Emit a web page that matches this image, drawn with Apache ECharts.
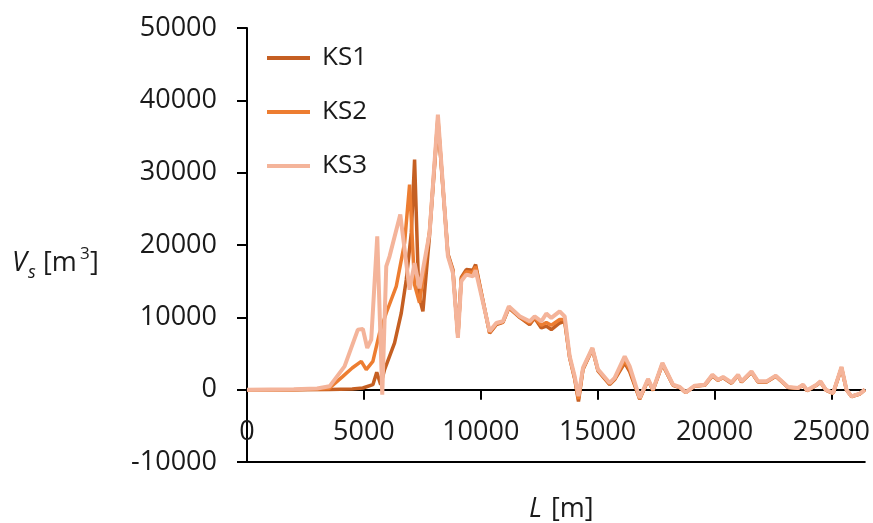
<!DOCTYPE html>
<html>
<head>
<meta charset="utf-8">
<script src="https://cdn.jsdelivr.net/npm/echarts@6/dist/echarts.min.js"></script>
<style>
html,body{margin:0;padding:0;background:#fff;}
#c{width:873px;height:523px;}
</style>
</head>
<body>
<div id="c"></div>
<script>
// ---- data (distance L [m], volume Vs [m3]) ----
const seriesNames = ['KS1', 'KS2', 'KS3'];
const xTicks = [0, 5000, 10000, 15000, 20000, 25000];

const ks1HeadX = [0, 2000, 3500, 4500, 4956, 5385, 5550, 5720, 5885, 6313, 6600, 6814, 7028, 7169, 7350, 7525, 7800];
const ks1HeadY = [0, 0, 20, 100, 230, 690, 2400, 700, 2770, 6460, 10600, 15210, 21670, 31800, 13000, 10830, 21000];

const ks2HeadX = [0, 2000, 3500, 4100, 4500, 4888, 5102, 5385, 5671, 5957, 6385, 6741, 6955, 7169, 7380, 7600, 7811];
const ks2HeadY = [0, 0, 150, 1840, 3000, 3910, 2770, 3900, 7840, 10600, 14290, 20290, 28350, 14500, 12000, 17000, 22000];

const ks3HeadX = [0, 2000, 3000, 3531, 4173, 4743, 4956, 5144, 5315, 5572, 5786, 5957, 6099, 6557, 6955, 7169, 7380, 7811];
const ks3HeadY = [0, 50, 150, 460, 3220, 8300, 8390, 5770, 6920, 21200, -700, 17050, 18440, 24200, 13830, 17500, 14000, 21670];

const tailX = [8166, 8594, 8808, 9022, 9166, 9380, 9665, 9780, 10379, 10666, 10948, 11205, 11663, 12091, 12305, 12591, 12805, 13019, 13375, 13589, 13803, 14017, 14180, 14372, 14774, 15014, 15515, 15729, 16157, 16371, 16799, 17155, 17369, 17770, 18224, 18511, 18768, 19153, 19581, 19910, 20152, 20366, 20724, 21006, 21152, 21580, 21862, 22223, 22620, 23146, 23574, 23788, 23960, 24362, 24533, 24760, 25072, 25432, 25646, 25860, 26216, 26430];

const ks1TailY = [37200, 18800, 16600, 7400, 15500, 16600, 16500, 17300, 7800, 9000, 9300, 11300, 10000, 8990, 9900, 8530, 8800, 8300, 9220, 9450, 4400, 1500, -1620, 2800, 5600, 2600, 700, 1400, 3700, 2500, -1300, 1300, -100, 3500, 600, 300, -400, 500, 600, 1900, 1300, 1650, 900, 1950, 1050, 2400, 1050, 1050, 1850, 300, 200, 600, -150, 600, 1050, -50, -500, 3000, -50, -950, -600, 0];
const ks2TailY = [37600, 18600, 16400, 7300, 15300, 16300, 16200, 17000, 7900, 9100, 9350, 11400, 10050, 9200, 10000, 8900, 9300, 8900, 9700, 9700, 4500, 1650, -1300, 2900, 5700, 2700, 800, 1500, 4000, 2800, -1250, 1400, -50, 3600, 650, 330, -380, 520, 650, 2000, 1330, 1700, 950, 2000, 1100, 2450, 1100, 1100, 1900, 330, 210, 650, -120, 650, 1100, -20, -480, 3050, -20, -940, -570, 0];
const ks3TailY = [38030, 18440, 16140, 7150, 14980, 15900, 15670, 16500, 8060, 9220, 9450, 11520, 10140, 9450, 10140, 9450, 10510, 9920, 10830, 10140, 4610, 1840, -900, 3000, 5770, 2800, 920, 1620, 4610, 3220, -1150, 1480, 0, 3690, 690, 370, -370, 550, 690, 2070, 1380, 1750, 1000, 2070, 1150, 2530, 1150, 1150, 1940, 370, 230, 690, -90, 690, 1150, 0, -460, 3140, 0, -930, -550, 0];

// ---- build ----
function pairs(hx, hy, tx, ty) {
  const out = [];
  hx.forEach((x, i) => out.push([x, hy[i]]));
  tx.forEach((x, i) => out.push([x, ty[i]]));
  return out;
}
const colors = ['#C55F22', '#ED7D31', '#F4B49A'];
const dataSets = [
  pairs(ks1HeadX, ks1HeadY, tailX, ks1TailY),
  pairs(ks2HeadX, ks2HeadY, tailX, ks2TailY),
  pairs(ks3HeadX, ks3HeadY, tailX, ks3TailY)
];
const FONT = 'Open Sans';
const TXT = '#1a1a1a';
const chart = echarts.init(document.getElementById('c'), null, {renderer: 'canvas'});
const xMin = 0, xMax = 26430;

chart.setOption({
  animation: false,
  backgroundColor: '#fff',
  color: colors,
  grid: {left: 247, top: 28, right: 8, bottom: 61, containLabel: false},
  legend: {
    left: 262, top: 38, orient: 'vertical', itemGap: 24,
    icon: 'rect', itemWidth: 43, itemHeight: 4,
    textStyle: {fontFamily: FONT, fontSize: 26, color: TXT, lineHeight: 30, padding: [0, 0, 0, 7]},
    data: seriesNames
  },
  xAxis: [{
    type: 'value', min: xMin, max: xMax, interval: 5000,
    axisLine: {show: true, onZero: true, lineStyle: {color: '#000', width: 2}},
    axisTick: {show: true, length: 10, lineStyle: {color: '#000', width: 2}, customValues: xTicks},
    axisLabel: {fontFamily: FONT, fontSize: 27, color: TXT, margin: -43,
      customValues: xTicks, formatter: v => String(v)},
    splitLine: {show: false}
  }, {
    type: 'value', min: xMin, max: xMax, position: 'bottom',
    axisLine: {show: true, onZero: false, lineStyle: {color: '#000', width: 2}},
    axisTick: {show: false}, axisLabel: {show: false}, splitLine: {show: false}
  }],
  yAxis: {
    type: 'value', min: -10000, max: 50000, interval: 10000,
    axisLine: {show: true, onZero: false, lineStyle: {color: '#000', width: 2}},
    axisTick: {show: true, length: 10, lineStyle: {color: '#000', width: 2}},
    axisLabel: {fontFamily: FONT, fontSize: 27, color: TXT, margin: 30, formatter: v => String(v)},
    splitLine: {show: false}
  },
  series: seriesNames.map((n, i) => ({
    name: n, type: 'line', xAxisIndex: 0, data: dataSets[i],
    showSymbol: false, symbol: 'none',
    lineStyle: {width: i === 2 ? 4 : 3.5, color: colors[i]},
    itemStyle: {color: colors[i]},
    z: 2 + i
  })),
  graphic: [
    {type: 'text', left: 12, top: 250, style: {text: 'V', fontFamily: FONT, fontSize: 27, fontStyle: 'italic', fill: TXT}},
    {type: 'text', left: 28, top: 264, style: {text: 's', fontFamily: FONT, fontSize: 18, fontStyle: 'italic', fill: TXT}},
    {type: 'text', left: 43, top: 250, style: {text: '[m', fontFamily: FONT, fontSize: 27, fill: TXT}},
    {type: 'text', left: 80, top: 246, style: {text: '3', fontFamily: FONT, fontSize: 17, fill: TXT}},
    {type: 'text', left: 90, top: 250, style: {text: ']', fontFamily: FONT, fontSize: 27, fill: TXT}},
    {type: 'text', left: 529, top: 496, style: {text: 'L', fontFamily: FONT, fontSize: 27, fontStyle: 'italic', fill: TXT}},
    {type: 'text', left: 551, top: 496, style: {text: '[m]', fontFamily: FONT, fontSize: 27, fill: TXT}}
  ]
});
</script>
</body>
</html>
